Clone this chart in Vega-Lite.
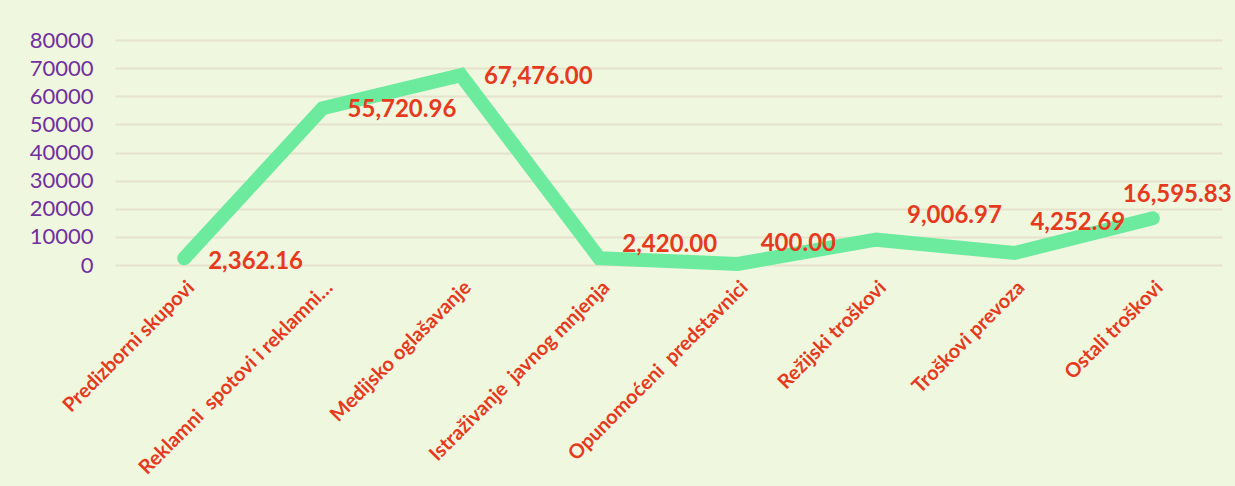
{
  "$schema": "https://vega.github.io/schema/vega-lite/v6.json",
  "width": 1107,
  "height": 225,
  "autosize": {"type": "none"},
  "padding": {"left": 115, "top": 40, "right": 13, "bottom": 221},
  "background": "#f0f7df",
  "config": {
    "view": {"stroke": null},
    "font": "Lato",
    "text": {"align": "left", "baseline": "middle", "fontSize": 24, "fontWeight": "bold", "color": "#e63a1e", "font": "Lato"}
  },
  "data": {
    "values": [
      {"kategorija": "Predizborni skupovi", "iznos": 2362.16},
      {"kategorija": "Reklamni\u00a0 spotovi i reklamni…", "iznos": 55720.96},
      {"kategorija": "Medijsko oglašavanje", "iznos": 67476.00},
      {"kategorija": "Istraživanje\u00a0 javnog mnjenja", "iznos": 2420.00},
      {"kategorija": "Opunomoćeni\u00a0 predstavnici", "iznos": 400.00},
      {"kategorija": "Režijski troškovi", "iznos": 9006.97},
      {"kategorija": "Troškovi prevoza", "iznos": 4252.69},
      {"kategorija": "Ostali troškovi", "iznos": 16595.83}
    ]
  },
  "encoding": {
    "x": {
      "field": "kategorija",
      "type": "nominal",
      "sort": null,
      "scale": {"type": "band", "paddingInner": 0, "paddingOuter": 0},
      "axis": {
        "title": null,
        "labelAngle": -45,
        "labelColor": "#e63a1e",
        "labelFont": "Lato",
        "labelFontWeight": "bold",
        "labelFontSize": 20,
        "labelPadding": 12,
        "labelLimit": 400,
        "ticks": false,
        "domain": false,
        "grid": false
      }
    },
    "y": {
      "field": "iznos",
      "type": "quantitative",
      "scale": {"domain": [0, 80000], "nice": false},
      "axis": {
        "title": null,
        "values": [0, 10000, 20000, 30000, 40000, 50000, 60000, 70000, 80000],
        "format": "d",
        "labelColor": "#7030a0",
        "labelFont": "Lato",
        "labelFontSize": 22,
        "labelPadding": 22,
        "labelBaseline": "middle",
        "ticks": false,
        "domain": false,
        "gridColor": "#e6e2cc",
        "gridWidth": 2
      }
    }
  },
  "layer": [
    {
      "mark": {"type": "line", "color": "#6ceb9f", "strokeWidth": 14, "strokeCap": "round", "strokeJoin": "miter"}
    },
    {
      "transform": [{"filter": "datum.kategorija == 'Predizborni skupovi'"}],
      "mark": {"type": "text", "dx": 24, "dy": 4},
      "encoding": {"text": {"field": "iznos", "type": "quantitative", "format": ",.2f"}}
    },
    {
      "transform": [{"filter": "indexof(datum.kategorija, 'Reklamni') == 0"}],
      "mark": {"type": "text", "dx": 25, "dy": 2},
      "encoding": {"text": {"field": "iznos", "type": "quantitative", "format": ",.2f"}}
    },
    {
      "transform": [{"filter": "datum.kategorija == 'Medijsko oglašavanje'"}],
      "mark": {"type": "text", "dx": 23, "dy": 2},
      "encoding": {"text": {"field": "iznos", "type": "quantitative", "format": ",.2f"}}
    },
    {
      "transform": [{"filter": "indexof(datum.kategorija, 'Istra') == 0"}],
      "mark": {"type": "text", "dx": 23, "dy": -13},
      "encoding": {"text": {"field": "iznos", "type": "quantitative", "format": ",.2f"}}
    },
    {
      "transform": [{"filter": "indexof(datum.kategorija, 'Opunomo') == 0"}],
      "mark": {"type": "text", "dx": 23, "dy": -20},
      "encoding": {"text": {"field": "iznos", "type": "quantitative", "format": ",.2f"}}
    },
    {
      "transform": [{"filter": "datum.kategorija == 'Režijski troškovi'"}],
      "mark": {"type": "text", "dx": 31, "dy": -24},
      "encoding": {"text": {"field": "iznos", "type": "quantitative", "format": ",.2f"}}
    },
    {
      "transform": [{"filter": "datum.kategorija == 'Troškovi prevoza'"}],
      "mark": {"type": "text", "dx": 16, "dy": -30},
      "encoding": {"text": {"field": "iznos", "type": "quantitative", "format": ",.2f"}}
    },
    {
      "transform": [{"filter": "datum.kategorija == 'Ostali troškovi'"}],
      "mark": {"type": "text", "dx": -30, "dy": -23},
      "encoding": {"text": {"field": "iznos", "type": "quantitative", "format": ",.2f"}}
    }
  ]
}
